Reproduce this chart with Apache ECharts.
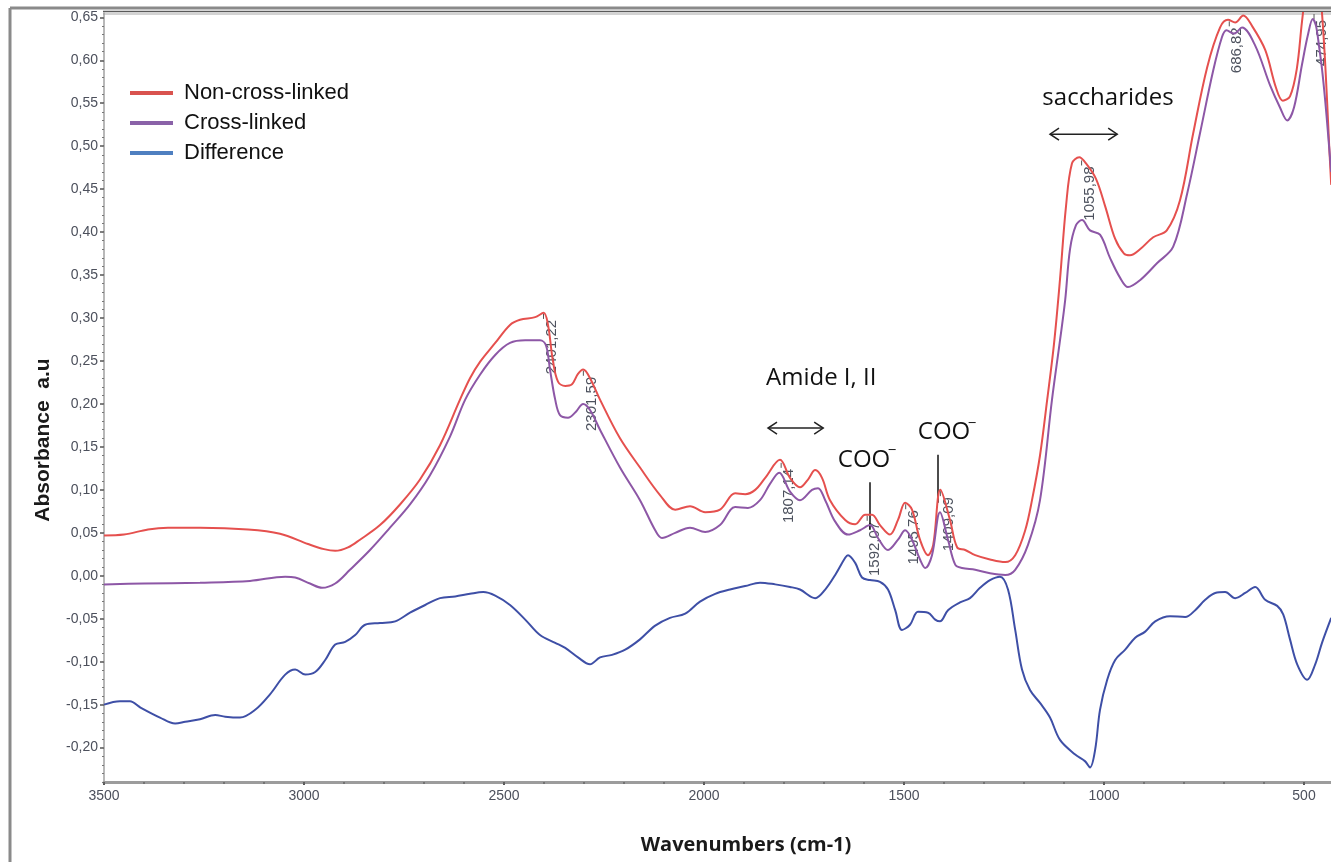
<!DOCTYPE html>
<html>
<head>
<meta charset="utf-8">
<title>FTIR spectra</title>
<script src="https://cdn.jsdelivr.net/npm/echarts@6/dist/echarts.min.js"></script>
<style>
  html, body { margin: 0; padding: 0; background: #ffffff; }
  #chart { width: 1331px; height: 862px; }
</style>
</head>
<body>
<div id="chart"></div>
<script>
// ---- spectra (wavenumber in cm-1, absorbance in a.u.) ----
const wnNonCross = [3500,3450,3390,3340,3260,3140,3060,2990,2950,2922,2890,2860,2810,2760,2710,2660,2610,2585,2560,2522,2485,2460,2422,2401,2390,2378,2365,2347,2330,2315,2302,2285,2260,2210,2160,2110,2072,2035,1997,1960,1922,1897,1872,1847,1810,1785,1760,1740,1722,1705,1685,1647,1622,1597,1580,1560,1535,1515,1497,1480,1460,1440,1427,1409,1385,1367,1347,1322,1285,1247,1222,1197,1180,1160,1142,1125,1110,1095,1080,1062,1045,1020,997,972,950,935,910,877,843,810,777,742,710,690,672,652,630,597,570,553,535,518,505,490,475,460,450,442,437,432];
const absNonCross = [0.047,0.048,0.054,0.056,0.056,0.054,0.049,0.037,0.031,0.029,0.033,0.042,0.059,0.083,0.112,0.152,0.205,0.230,0.249,0.271,0.292,0.298,0.301,0.306,0.292,0.251,0.226,0.221,0.223,0.235,0.240,0.230,0.205,0.160,0.126,0.094,0.077,0.081,0.074,0.077,0.096,0.095,0.100,0.114,0.135,0.114,0.103,0.112,0.123,0.114,0.088,0.065,0.060,0.071,0.071,0.059,0.048,0.065,0.085,0.077,0.042,0.024,0.036,0.100,0.065,0.033,0.030,0.024,0.019,0.016,0.024,0.053,0.088,0.140,0.205,0.270,0.345,0.430,0.480,0.487,0.480,0.462,0.430,0.392,0.375,0.373,0.380,0.394,0.402,0.437,0.515,0.592,0.638,0.647,0.644,0.652,0.640,0.612,0.568,0.553,0.558,0.590,0.645,0.700,0.720,0.680,0.620,0.550,0.500,0.455];

const wnCross = [3500,3400,3260,3135,3047,3022,2985,2955,2922,2885,2835,2785,2735,2685,2635,2597,2560,2522,2485,2447,2410,2395,2385,2372,2360,2340,2322,2302,2285,2260,2210,2160,2122,2105,2072,2035,1997,1960,1922,1890,1860,1835,1812,1785,1760,1730,1715,1697,1672,1640,1610,1585,1565,1540,1515,1497,1480,1460,1447,1430,1410,1390,1372,1355,1322,1285,1247,1222,1190,1160,1130,1110,1097,1085,1070,1055,1035,1010,985,960,940,910,867,827,792,760,727,705,694,675,655,622,585,560,542,525,505,490,478,470,462,455,447,440,432];
const absCross = [-0.010,-0.009,-0.008,-0.006,-0.001,-0.002,-0.009,-0.014,-0.009,0.007,0.030,0.056,0.083,0.117,0.162,0.205,0.234,0.257,0.271,0.274,0.274,0.268,0.240,0.205,0.187,0.184,0.190,0.200,0.193,0.170,0.126,0.088,0.053,0.044,0.050,0.056,0.051,0.059,0.080,0.079,0.088,0.107,0.120,0.098,0.088,0.100,0.102,0.088,0.063,0.048,0.053,0.059,0.044,0.030,0.042,0.053,0.042,0.019,0.009,0.024,0.074,0.042,0.013,0.009,0.007,0.003,0.001,0.007,0.036,0.088,0.205,0.274,0.321,0.380,0.408,0.414,0.402,0.397,0.370,0.347,0.336,0.344,0.364,0.383,0.445,0.515,0.588,0.627,0.635,0.631,0.638,0.617,0.571,0.545,0.530,0.545,0.595,0.630,0.648,0.640,0.615,0.590,0.553,0.515,0.470];

const wnDiff = [3500,3460,3435,3410,3360,3322,3297,3260,3222,3197,3160,3122,3085,3047,3022,2997,2972,2947,2922,2897,2872,2847,2810,2772,2735,2697,2660,2622,2585,2552,2522,2485,2447,2410,2372,2347,2315,2285,2260,2230,2197,2160,2122,2085,2047,2010,1972,1935,1897,1860,1822,1785,1760,1722,1697,1672,1647,1640,1622,1605,1585,1560,1540,1522,1505,1485,1465,1440,1422,1410,1390,1360,1335,1310,1285,1260,1240,1222,1205,1185,1160,1135,1110,1072,1047,1035,1022,1010,992,972,947,922,897,872,835,797,772,747,722,697,672,647,622,597,567,552,535,517,492,472,455,432];
const absDiff = [-0.150,-0.146,-0.146,-0.153,-0.165,-0.172,-0.170,-0.167,-0.162,-0.164,-0.165,-0.156,-0.138,-0.115,-0.109,-0.115,-0.112,-0.098,-0.080,-0.077,-0.069,-0.057,-0.055,-0.053,-0.043,-0.034,-0.026,-0.024,-0.021,-0.019,-0.023,-0.034,-0.051,-0.069,-0.078,-0.084,-0.095,-0.103,-0.095,-0.092,-0.086,-0.074,-0.058,-0.049,-0.044,-0.030,-0.021,-0.016,-0.012,-0.008,-0.010,-0.013,-0.016,-0.026,-0.016,0.001,0.021,0.024,0.015,-0.002,-0.005,-0.007,-0.016,-0.040,-0.063,-0.057,-0.042,-0.043,-0.051,-0.053,-0.040,-0.031,-0.026,-0.014,-0.005,-0.001,-0.016,-0.063,-0.109,-0.133,-0.148,-0.165,-0.191,-0.208,-0.216,-0.223,-0.202,-0.156,-0.121,-0.098,-0.086,-0.072,-0.065,-0.053,-0.047,-0.048,-0.040,-0.028,-0.020,-0.019,-0.026,-0.020,-0.013,-0.028,-0.035,-0.045,-0.074,-0.103,-0.121,-0.103,-0.078,-0.049];

// labelled peak positions (cm-1)
const peakWavenumbers = [2401.22, 2301.59, 1807.14, 1592.07, 1495.76, 1409.09, 1055.98, 686.82, 474.95];

// axis ticks
const xTickValues = [3500, 3000, 2500, 2000, 1500, 1000, 500];
const yTickValues = [-0.20, -0.15, -0.10, -0.05, 0.00, 0.05, 0.10, 0.15, 0.20, 0.25, 0.30, 0.35, 0.40, 0.45, 0.50, 0.55, 0.60, 0.65];

const seriesNames = ['Non-cross-linked', 'Cross-linked', 'Difference'];

// ---- axis extents ----
const X_MIN = 432.5, X_MAX = 3500;
const Y_MIN = -0.24, Y_MAX = 0.655;

const xMinor = [];
for (let w = 3500; w >= 500; w -= 100) xMinor.push(w);
const yMinor = [];
for (let k = -24; k <= 65; k++) yMinor.push(+(k / 100).toFixed(2));

function pairs(xs, ys) { return xs.map((x, i) => [x, ys[i]]); }
function comma(v, d) { return v.toFixed(d).replace('.', ','); }
function interp(xs, ys, x) {
  for (let i = 0; i < xs.length - 1; i++) {
    const a = xs[i], b = xs[i + 1];
    if ((x <= a && x >= b) || (x >= a && x <= b)) {
      const t = (x - a) / (b - a);
      return ys[i] + t * (ys[i + 1] - ys[i]);
    }
  }
  return ys[ys.length - 1];
}

const tickFont = { fontFamily: 'Liberation Sans, Arial, sans-serif', fontSize: 14, color: '#4c505c' };

const chart = echarts.init(document.getElementById('chart'), null, { renderer: 'canvas' });

const lineSeries = (name, xs, ys, color) => ({
  name, type: 'line', xAxisIndex: 0, yAxisIndex: 0,
  data: pairs(xs, ys), showSymbol: false, smooth: 0.35,
  lineStyle: { color, width: 2 }, itemStyle: { color },
  emphasis: { disabled: true }, clip: true
});

chart.setOption({
  animation: false,
  backgroundColor: '#ffffff',
  grid: { left: 104, right: 0, top: 13, bottom: 80, containLabel: false },
  legend: {
    orient: 'vertical', left: 125, top: 77, itemGap: 8,
    icon: 'rect', itemWidth: 43, itemHeight: 4,
    textStyle: { fontFamily: 'Liberation Sans, Arial, sans-serif', fontSize: 22, color: '#111', padding: [0, 0, 0, 6], lineHeight: 22 },
    data: [
      { name: seriesNames[0], itemStyle: { color: '#d9534f' } },
      { name: seriesNames[1], itemStyle: { color: '#8a62a8' } },
      { name: seriesNames[2], itemStyle: { color: '#4f7fc0' } }
    ],
    selectedMode: false
  },
  xAxis: [
    {
      type: 'value', inverse: true, min: X_MIN, max: X_MAX,
      axisLine: { show: true, onZero: false, lineStyle: { color: '#9c9c9c', width: 3 } },
      axisTick: { show: true, customValues: xTickValues, length: 3, lineStyle: { color: '#555', width: 2 } },
      axisLabel: { show: true, customValues: xTickValues, margin: 7, ...tickFont, formatter: v => String(v) },
      splitLine: { show: false }
    },
    {
      type: 'value', inverse: true, min: X_MIN, max: X_MAX, position: 'bottom',
      axisLine: { show: false, onZero: false },
      axisTick: { show: true, customValues: xMinor, length: 2, lineStyle: { color: '#666', width: 1.5 } },
      axisLabel: { show: false }, splitLine: { show: false }
    }
  ],
  yAxis: [
    {
      type: 'value', min: Y_MIN, max: Y_MAX,
      axisLine: { show: true, onZero: false, lineStyle: { color: '#a0a0a0', width: 1.5 } },
      axisTick: { show: true, customValues: yTickValues, length: 4, lineStyle: { color: '#555', width: 1.5 } },
      axisLabel: { show: true, customValues: yTickValues, margin: 6, ...tickFont, formatter: v => comma(v, 2) },
      splitLine: { show: false }
    },
    {
      type: 'value', min: Y_MIN, max: Y_MAX, position: 'left',
      axisLine: { show: false, onZero: false },
      axisTick: { show: true, customValues: yMinor, length: 2, lineStyle: { color: '#777', width: 1 } },
      axisLabel: { show: false }, splitLine: { show: false }
    }
  ],
  series: [
    lineSeries(seriesNames[0], wnNonCross, absNonCross, '#e5504e'),
    lineSeries(seriesNames[1], wnCross, absCross, '#8d57a6'),
    lineSeries(seriesNames[2], wnDiff, absDiff, '#3e4fa6')
  ]
});

// ---- annotations placed in data coordinates ----
const px = (w, v) => chart.convertToPixel({ xAxisIndex: 0, yAxisIndex: 0 }, [w, v]);
const annFont = 'Open Sans, Liberation Sans, sans-serif';
const g = [];

// outer frame and plot top border
g.push({ type: 'line', shape: { x1: 10, y1: 8, x2: 1331, y2: 8 }, style: { stroke: '#8a8a8a', lineWidth: 3 }, silent: true });
g.push({ type: 'line', shape: { x1: 10, y1: 8, x2: 10, y2: 862 }, style: { stroke: '#8a8a8a', lineWidth: 3 }, silent: true });
g.push({ type: 'line', shape: { x1: 103, y1: 11.5, x2: 1331, y2: 11.5 }, style: { stroke: '#5a5a5a', lineWidth: 1.5 }, silent: true });
g.push({ type: 'line', shape: { x1: 103, y1: 14, x2: 1331, y2: 14 }, style: { stroke: '#a8a8a8', lineWidth: 1.2 }, silent: true });

// axis titles
g.push({ type: 'text', x: 746, y: 845, silent: true,
  style: { text: 'Wavenumbers (cm-1)', font: 'bold 20px ' + annFont, fill: '#1a1a1a', align: 'center', verticalAlign: 'middle' } });
g.push({ type: 'text', x: 43, y: 440, rotation: Math.PI / 2, silent: true,
  style: { text: 'Absorbance  a.u', font: 'bold 21px Liberation Sans, Arial, sans-serif', fill: '#1a1a1a', align: 'center', verticalAlign: 'middle' } });

// peak labels, read bottom-to-top just under each peak of the upper trace
peakWavenumbers.forEach(w => {
  const v = Math.min(interp(wnNonCross, absNonCross, w), Y_MAX);
  const p = px(w, v);
  g.push({ type: 'line', shape: { x1: p[0], y1: p[1] + 1, x2: p[0], y2: p[1] + 6 }, style: { stroke: '#555', lineWidth: 1 }, silent: true });
  g.push({ type: 'text', x: p[0] + 8, y: p[1] + 7, rotation: Math.PI / 2, silent: true,
    style: { text: comma(w, 2), font: '15px Liberation Sans, Arial, sans-serif', fill: '#4d525e', align: 'right', verticalAlign: 'middle' } });
});

// band labels and double arrows
function doubleArrow(wFrom, wTo, v) {
  const a = px(wFrom, v), b = px(wTo, v);
  const y = a[1], h = 6, d = 9;
  g.push({ type: 'line', shape: { x1: a[0], y1: y, x2: b[0], y2: y }, style: { stroke: '#222', lineWidth: 1.5 }, silent: true });
  g.push({ type: 'polyline', shape: { points: [[a[0] + d, y - h], [a[0], y], [a[0] + d, y + h]] }, style: { stroke: '#222', lineWidth: 1.5, fill: null }, silent: true });
  g.push({ type: 'polyline', shape: { points: [[b[0] - d, y - h], [b[0], y], [b[0] - d, y + h]] }, style: { stroke: '#222', lineWidth: 1.5, fill: null }, silent: true });
}
function bandText(text, w, v) {
  const p = px(w, v);
  g.push({ type: 'text', x: p[0], y: p[1], silent: true,
    style: { text, font: '24px ' + annFont, fill: '#111', align: 'center', verticalAlign: 'middle' } });
}
function cooLabel(w, v, wLine, vTop, vBottom) {
  const p = px(w, v);
  g.push({ type: 'text', x: p[0] - 4, y: p[1], silent: true,
    style: { text: 'COO', font: '24px ' + annFont, fill: '#111', align: 'center', verticalAlign: 'middle' } });
  g.push({ type: 'text', x: p[0] + 24, y: p[1] - 9, silent: true,
    style: { text: '\u2212', font: '15px ' + annFont, fill: '#111', align: 'center', verticalAlign: 'middle' } });
  const t = px(wLine, vTop), b = px(wLine, vBottom);
  g.push({ type: 'line', shape: { x1: t[0], y1: t[1], x2: b[0], y2: b[1] }, style: { stroke: '#111', lineWidth: 1.5 }, silent: true });
}

bandText('saccharides', 990, 0.556);
doubleArrow(1135, 967, 0.514);
bandText('Amide I, II', 1707, 0.230);
doubleArrow(1840, 1702, 0.172);
cooLabel(1590, 0.135, 1585, 0.109, 0.0535);
cooLabel(1390, 0.167, 1415, 0.141, 0.085);

chart.setOption({ graphic: g });
</script>
</body>
</html>
